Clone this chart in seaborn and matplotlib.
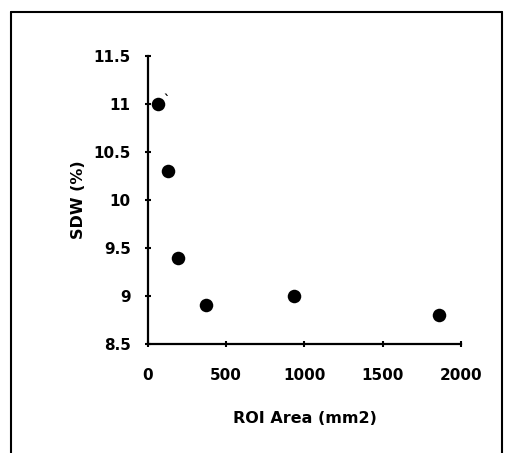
import matplotlib
matplotlib.use("Agg")
import matplotlib.pyplot as plt
import seaborn as sns
import pandas as pd
from matplotlib.lines import Line2D

# values
roi_area = [62, 125, 190, 370, 930, 1860]
sdw_pct = [11.0, 10.3, 9.4, 8.9, 9.0, 8.8]
x_ticks = [0, 500, 1000, 1500, 2000]
y_ticks = [8.5, 9, 9.5, 10, 10.5, 11, 11.5]
y_tick_labels = ["8.5", "9", "9.5", "10", "10.5", "11", "11.5"]

df = pd.DataFrame({"roi": roi_area, "sdw": sdw_pct})

sns.set_theme(style="white")
plt.rcParams["font.family"] = ["DejaVu Sans"]
plt.rcParams["font.weight"] = "bold"

fig = plt.figure(figsize=(5.07, 4.53), dpi=100)
ax = fig.add_axes([0.292, 0.241, 0.617, 0.635])

sns.scatterplot(data=df, x="roi", y="sdw", ax=ax, color="black", s=95,
                edgecolor="black", linewidth=0, zorder=3, clip_on=False)

ax.set_xlim(0, 2000)
ax.set_ylim(8.5, 11.5)
ax.set_xticks(x_ticks)
ax.set_xticklabels([str(t) for t in x_ticks])
ax.set_yticks(y_ticks)
ax.set_yticklabels(y_tick_labels)
ax.tick_params(axis="both", direction="inout", length=5, width=1.5,
               color="black", labelsize=11, labelcolor="black",
               bottom=True, left=True)
ax.tick_params(axis="x", pad=15)
ax.tick_params(axis="y", pad=10)
for lab in ax.get_xticklabels() + ax.get_yticklabels():
    lab.set_fontweight("bold")

for side in ["top", "right"]:
    ax.spines[side].set_visible(False)
for side in ["left", "bottom"]:
    ax.spines[side].set_color("black")
    ax.spines[side].set_linewidth(1.6)

ax.set_xlabel("ROI Area (mm2)", fontsize=11.5, fontweight="bold", color="black", labelpad=20)
ax.set_ylabel("SDW (%)", fontsize=11.5, fontweight="bold", color="black", labelpad=5)

# stray tick mark next to the first point
ax.text(roi_area[0] + 55, sdw_pct[0] + 0.04, "`", fontsize=9, color="black",
        va="center", ha="center")

# outer frame (open at bottom)
x0, x1 = 11 / 507, 502 / 507
y1 = 1 - 12 / 453
for xs, ys in [([x0, x0], [0, y1]), ([x0, x1], [y1, y1]), ([x1, x1], [0, y1])]:
    fig.add_artist(Line2D(xs, ys, transform=fig.transFigure, color="black", lw=1.5))

fig.savefig("out.png", dpi=100)
